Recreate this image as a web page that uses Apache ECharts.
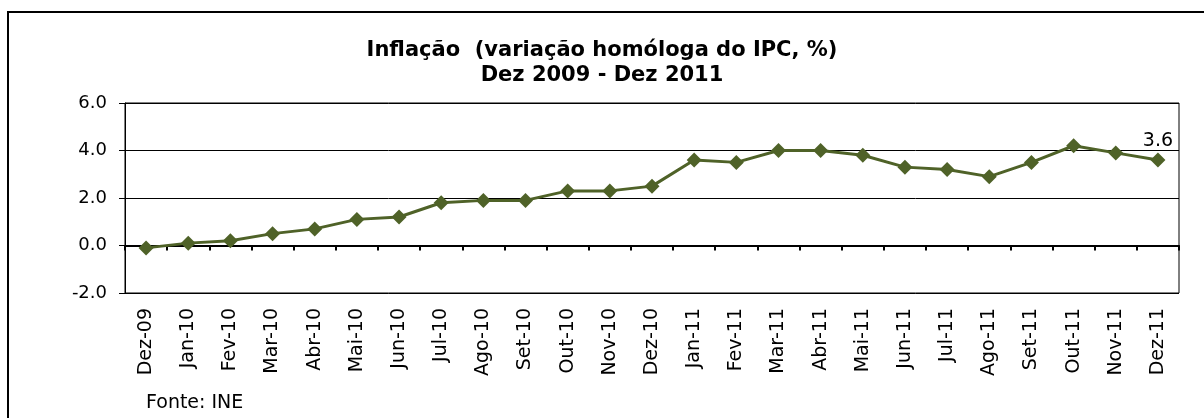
<!DOCTYPE html>
<html>
<head>
<meta charset="utf-8">
<script src="https://cdn.jsdelivr.net/npm/echarts@6/dist/echarts.min.js"></script>
<style>
  html, body { margin: 0; padding: 0; background: #fff; }
  #inflacaoDiv { width: 1204px; height: 418px; }
</style>
</head>
<body>
<div id="inflacaoDiv"></div>
<script>
let inflacao = echarts.init(document.getElementById("inflacaoDiv"));

const meses = [
    "Dez-09", "Jan-10", "Fev-10", "Mar-10", "Abr-10", "Mai-10", "Jun-10",
    "Jul-10", "Ago-10", "Set-10", "Out-10", "Nov-10", "Dez-10", "Jan-11",
    "Fev-11", "Mar-11", "Abr-11", "Mai-11", "Jun-11", "Jul-11", "Ago-11",
    "Set-11", "Out-11", "Nov-11", "Dez-11",
];
const ipc = [
    -0.1, 0.1, 0.2, 0.5, 0.7, 1.1, 1.2, 1.8, 1.9, 1.9, 2.3, 2.3, 2.5,
    3.6, 3.5, 4.0, 4.0, 3.8, 3.3, 3.2, 2.9, 3.5, 4.2, 3.9, 3.6,
];

const fonte = "DejaVu Sans, Verdana, sans-serif";
const verde = "#4F6228";

// só o último ponto leva etiqueta
let dados = ipc.map((v, i) =>
    i === ipc.length - 1
        ? { value: v, label: { show: true } }
        : v
);

let options = {
    animation: false,
    title: {
        text: "Inflação  (variação homóloga do IPC, %)\nDez 2009 - Dez 2011",
        left: "center",
        top: 33,
        textStyle: {
            color: "#000",
            fontFamily: fonte,
            fontWeight: "bold",
            fontSize: 21,
            lineHeight: 25,
        },
    },
    graphic: [
        {
            type: "rect",
            shape: { x: 8, y: 12, width: 1210, height: 430 },
            style: { fill: null, stroke: "#000", lineWidth: 2 },
            silent: true,
        },
        {
            type: "text",
            left: 146,
            top: 394,
            style: {
                text: "Fonte: INE",
                fill: "#000",
                font: "19px " + fonte,
            },
        },
    ],
    grid: {
        left: 125,
        right: 25,
        top: 103,
        bottom: 125,
        show: true,
        borderColor: "#000",
        borderWidth: 1,
    },
    xAxis: [
        {
            type: "category",
            data: meses,
            position: "bottom",
            axisLine: { show: false, onZero: false },
            axisTick: { show: false },
            axisLabel: {
                rotate: 90,
                margin: 15,
                color: "#000",
                fontFamily: fonte,
                fontSize: 19,
                interval: 0,
            },
        },
        {
            type: "category",
            data: meses,
            position: "bottom",
            axisLine: { show: true, onZero: true, lineStyle: { color: "#000", width: 2 } },
            axisTick: { show: true, length: 5, interval: 0, lineStyle: { color: "#000", width: 2 } },
            axisLabel: { show: false },
        },
    ],
    yAxis: {
        type: "value",
        min: -2,
        max: 6,
        interval: 2,
        axisLine: { show: true, lineStyle: { color: "#000" } },
        axisTick: { show: true, length: 6, lineStyle: { color: "#000" } },
        axisLabel: {
            formatter: (v) => v.toFixed(1),
            color: "#000",
            fontFamily: fonte,
            fontSize: 18,
            margin: 18,
        },
        splitLine: { lineStyle: { color: "#000", width: 1 } },
    },
    series: [
        {
            type: "line",
            data: dados,
            xAxisIndex: 0,
            symbol: "diamond",
            symbolSize: 15,
            color: verde,
            lineStyle: { color: verde, width: 3 },
            itemStyle: { color: verde },
            label: {
                show: false,
                position: "top",
                distance: 2,
                color: "#000",
                fontFamily: fonte,
                fontSize: 19,
                formatter: (p) => p.value.toFixed(1),
            },
            z: 5,
        },
    ],
};
inflacao.setOption(options);
</script>
</body>
</html>
